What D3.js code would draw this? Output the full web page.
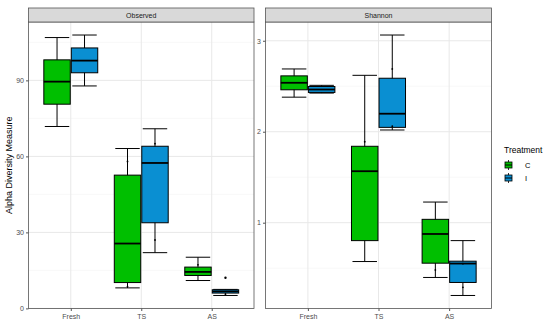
<!DOCTYPE html>
<html>
<head>
<meta charset="utf-8">
<script src="https://cdn.jsdelivr.net/npm/d3@7"></script>
<style>
  body { margin: 0; background: #fff; }
  text { font-family: "Liberation Sans", Arial, sans-serif; }
</style>
</head>
<body>
<div id="chart"></div>
<script>
// categories and groups
var sites = ["Fresh", "TS", "AS"];
var treatments = ["C", "I"];
var fills = ["#00BF00", "#0A8FD2"];

// box stats per site: [lower whisker, q1, median, q3, upper whisker]
var observedC = [[71.8, 80.6, 89.5, 98.1, 106.9], [8.1, 10.2, 25.6, 52.6, 63.1], [11.0, 13.0, 14.4, 16.3, 20.2]];
var observedI = [[87.8, 93.0, 97.8, 102.8, 107.9], [22.0, 33.8, 57.4, 64.0, 70.9], [5.1, 6.05, 6.7, 7.35, 7.5]];
var shannonC = [[2.38, 2.461, 2.538, 2.614, 2.69], [0.573, 0.803, 1.566, 1.84, 2.62], [0.398, 0.555, 0.876, 1.037, 1.227]];
var shannonI = [[2.425, 2.432, 2.464, 2.497, 2.51], [2.019, 2.048, 2.198, 2.588, 3.063], [0.2, 0.343, 0.551, 0.577, 0.803]];

// outliers [site, treatment, value]
var observedOut = [["AS", "I", 12.1]];
var shannonOut = [];

// small data dots [site, treatment, value]
var observedPts = [["TS", "C", 58.0], ["TS", "C", 8.6], ["TS", "I", 27.0], ["TS", "I", 65.0], ["AS", "C", 17.2], ["AS", "I", 5.6]];
var shannonPts = [["TS", "C", 1.89], ["TS", "I", 2.69], ["TS", "I", 2.06], ["AS", "C", 0.48], ["AS", "I", 0.29], ["AS", "I", 0.55]];

var observedTicks = [0, 30, 60, 90];
var observedMinor = [15, 45, 75, 105];
var shannonTicks = [1, 2, 3];
var shannonMinor = [0.5, 1.5, 2.5];

var width = 550, height = 325;
var panelTop = 22, panelBottom = 308.5, stripTop = 8;

var svg = d3.select("#chart").append("svg")
    .attr("width", width)
    .attr("height", height);

function panel(title, x0, x1, statsC, statsI, outs, pts, ticks, minor) {
    var g = svg.append("g");

    var all = [];
    [statsC, statsI].forEach(function(s) { s.forEach(function(b) { all = all.concat(b); }); });
    outs.forEach(function(o) { all.push(o[2]); });
    var ext = d3.extent(all);
    var pad = (ext[1] - ext[0]) * 0.05;

    var y = d3.scaleLinear()
        .domain([ext[0] - pad, ext[1] + pad])
        .range([panelBottom, panelTop]);
    var x = d3.scaleLinear()
        .domain([0.4, 3.6])
        .range([x0, x1]);
    var xPos = function(site) { return x(sites.indexOf(site) + 1); };
    var off = 0.195, bw = 0.375;
    var boxX = function(site, tr) {
        return xPos(site) + (tr == "C" ? -1 : 1) * (x(1 + off) - x(1));
    };
    var halfW = (x(1 + bw) - x(1)) / 2;

    // background grid
    g.selectAll(".minor").data(minor).enter().append("line")
        .attr("x1", x0).attr("x2", x1)
        .attr("y1", function(d) { return y(d); })
        .attr("y2", function(d) { return y(d); })
        .style("stroke", "#f3f3f3").style("stroke-width", 0.6);
    g.selectAll(".major").data(ticks).enter().append("line")
        .attr("x1", x0).attr("x2", x1)
        .attr("y1", function(d) { return y(d); })
        .attr("y2", function(d) { return y(d); })
        .style("stroke", "#e8e8e8").style("stroke-width", 1);
    g.selectAll(".vgrid").data(sites).enter().append("line")
        .attr("x1", function(d) { return xPos(d); })
        .attr("x2", function(d) { return xPos(d); })
        .attr("y1", panelTop).attr("y2", panelBottom)
        .style("stroke", "#e8e8e8").style("stroke-width", 1);

    // boxes
    treatments.forEach(function(tr, ti) {
        var stats = tr == "C" ? statsC : statsI;
        stats.forEach(function(b, si) {
            var cx = boxX(sites[si], tr);
            var bg = g.append("g");
            // whisker line
            bg.append("line")
                .attr("x1", cx).attr("x2", cx)
                .attr("y1", y(b[0])).attr("y2", y(b[4]))
                .style("stroke", "#000").style("stroke-width", 1);
            // errorbar caps
            [b[0], b[4]].forEach(function(v) {
                bg.append("line")
                    .attr("x1", cx - halfW + 1).attr("x2", cx + halfW - 1)
                    .attr("y1", y(v)).attr("y2", y(v))
                    .style("stroke", "#000").style("stroke-width", 1);
            });
            bg.append("rect")
                .attr("x", cx - halfW).attr("width", halfW * 2)
                .attr("y", y(b[3])).attr("height", Math.max(1, y(b[1]) - y(b[3])))
                .style("fill", fills[ti]).style("stroke", "#000").style("stroke-width", 1);
            bg.append("line")
                .attr("x1", cx - halfW).attr("x2", cx + halfW)
                .attr("y1", y(b[2])).attr("y2", y(b[2]))
                .style("stroke", "#000").style("stroke-width", 1.8);
        });
    });

    // outliers and data dots
    g.selectAll(".out").data(outs).enter().append("circle")
        .attr("cx", function(d) { return boxX(d[0], d[1]); })
        .attr("cy", function(d) { return y(d[2]); })
        .attr("r", 1.2).style("fill", "#000");
    g.selectAll(".pt").data(pts).enter().append("circle")
        .attr("cx", function(d) { return boxX(d[0], d[1]); })
        .attr("cy", function(d) { return y(d[2]); })
        .attr("r", 0.9).style("fill", "#000");

    // panel border
    g.append("rect")
        .attr("x", x0).attr("y", panelTop)
        .attr("width", x1 - x0).attr("height", panelBottom - panelTop)
        .style("fill", "none").style("stroke", "#555").style("stroke-width", 0.8);

    // strip
    g.append("rect")
        .attr("x", x0).attr("y", stripTop)
        .attr("width", x1 - x0).attr("height", panelTop - stripTop)
        .style("fill", "#d9d9d9").style("stroke", "#555").style("stroke-width", 0.8);
    g.append("text")
        .attr("x", (x0 + x1) / 2).attr("y", (stripTop + panelTop) / 2 + 2.5)
        .attr("text-anchor", "middle")
        .style("font-size", "7px").style("fill", "#1a1a1a")
        .text(title);

    // axes
    var yAxis = d3.axisLeft(y).tickValues(ticks).tickSize(2.5).tickPadding(2)
        .tickFormat(d3.format("d"));
    g.append("g").attr("transform", "translate(" + x0 + ",0)").call(yAxis)
        .call(function(a) {
            a.select(".domain").remove();
            a.selectAll("line").style("stroke", "#555");
            a.selectAll("text").style("font-size", "7px").style("fill", "#4d4d4d")
                .style("font-family", "Liberation Sans, Arial, sans-serif");
        });
    var xAxis = d3.axisBottom(x).tickValues([1, 2, 3]).tickSize(2.5).tickPadding(3)
        .tickFormat(function(d) { return sites[d - 1]; });
    g.append("g").attr("transform", "translate(0," + panelBottom + ")").call(xAxis)
        .call(function(a) {
            a.select(".domain").remove();
            a.selectAll("line").style("stroke", "#555");
            a.selectAll("text").style("font-size", "7px").style("fill", "#4d4d4d")
                .style("font-family", "Liberation Sans, Arial, sans-serif");
        });
}

panel("Observed", 28.5, 254, observedC, observedI, observedOut, observedPts, observedTicks, observedMinor);
panel("Shannon", 265.5, 491.5, shannonC, shannonI, shannonOut, shannonPts, shannonTicks, shannonMinor);

// y axis title
svg.append("text")
    .attr("transform", "translate(12," + ((panelTop + panelBottom) / 2) + ") rotate(-90)")
    .attr("text-anchor", "middle")
    .style("font-size", "9px").style("fill", "#000")
    .text("Alpha Diversity Measure");

// legend
var legend = svg.append("g").attr("transform", "translate(504,0)");
legend.append("text")
    .attr("x", 0).attr("y", 153)
    .style("font-size", "8.5px").style("fill", "#000")
    .text("Treatment");
treatments.forEach(function(tr, i) {
    var ky = 160 + i * 13;
    legend.append("line")
        .attr("x1", 4.5).attr("x2", 4.5)
        .attr("y1", ky).attr("y2", ky + 10)
        .style("stroke", "#000").style("stroke-width", 0.8);
    legend.append("rect")
        .attr("x", 1).attr("y", ky + 2)
        .attr("width", 7).attr("height", 6)
        .style("fill", fills[i]).style("stroke", "#000").style("stroke-width", 0.8);
    legend.append("line")
        .attr("x1", 1).attr("x2", 8)
        .attr("y1", ky + 5).attr("y2", ky + 5)
        .style("stroke", "#000").style("stroke-width", 1);
    legend.append("text")
        .attr("x", 21).attr("y", ky + 7.5)
        .style("font-size", "7.5px").style("fill", "#000")
        .text(tr);
});
</script>
</body>
</html>
